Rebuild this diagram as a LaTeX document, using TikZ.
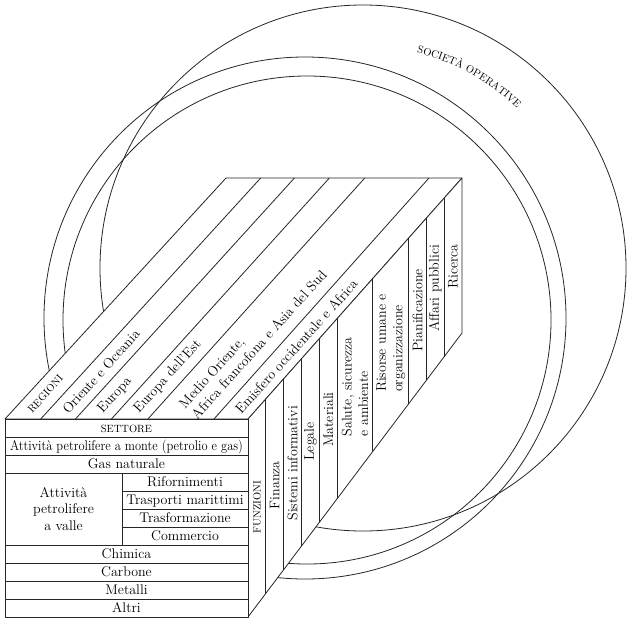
\documentclass[tikz,border=0pt]{standalone}
\usepackage{graphicx}
\usetikzlibrary{calc,decorations.text}
\newcommand{\grtcaps}{\fontsize{10.5}{12}\selectfont}

\begin{document}
\begin{tikzpicture}[
    x=1pt, y=-1pt,
    line join=round,
    nosep/.style={inner sep=0},
    edge/.style={draw=black!85, line width=0.8pt},
    face/.style={edge, fill=white},
    ring/.style={draw=black!85, line width=0.8pt},
    lbl/.style={nosep, font=\fontsize{14}{16.5}\selectfont},
    cell/.style={lbl, text height=12pt, text depth=2.5pt},
    reglabel/.style={lbl, anchor=west, rotate=48, align=left},
    funlabel/.style={lbl, rotate=90, align=left}]
\path[use as bounding box, fill=white] (0,0) rectangle (636,627);

\coordinate (ftl) at (5,419);
\coordinate (ftr) at (248,419);
\coordinate (fbl) at (5,617);
\coordinate (fbr) at (248,617);
\coordinate (btl) at (226,178);
\coordinate (btr) at (462,178);
\coordinate (bbr) at (462,333);
\coordinate (opA) at (363,268);
\coordinate (opB) at (305,318);
\coordinate (opC) at (307,320);

\draw[ring] (opA) circle[radius=263];
\draw[ring] (opB) circle[radius=261];
\draw[ring] (opC) circle[radius=244];
\path[decorate, decoration={text along path, text align=center, text={|\grtcaps|SOCIETÀ OPERATIVE}}]
    ($(opA)+(-77:222)$) arc[start angle=-77, end angle=-45, radius=222];

\path[face] (ftl) -- (btl) -- (btr) -- (ftr) -- cycle;
\path[face] (ftr) -- (btr) -- (bbr) -- (fbr) -- cycle;
\path[face] (ftl) rectangle (fbr);

\foreach \t in {0.147,0.29,0.438,0.588,0.86}
    \draw[edge] ($(ftl)!\t!(ftr)$) -- ($(btl)!\t!(btr)$);
\foreach \k in {1,2,3,4,5,7,9,10,11}
    \draw[edge] ($(ftr)!{\k/12}!(btr)$) -- ($(fbr)!{\k/12}!(bbr)$);
\foreach \k in {1,2,3,7,8,9,10}
    \draw[edge] ($(ftl)+(0,18*\k)$) -- ($(ftr)+(0,18*\k)$);
\foreach \k in {4,5,6}
    \draw[edge] ($(ftl)+(117,18*\k)$) -- ($(ftr)+(0,18*\k)$);
\draw[edge] ($(ftl)+(117,54)$) -- ($(ftl)+(117,126)$);

\foreach \k/\txt in {0/{\grtcaps SETTORE},
                     1/{\scalebox{0.89}[1]{Attività petrolifere a monte (petrolio e gas)}},
                     2/Gas naturale, 7/Chimica, 8/Carbone, 9/Metalli, 10/Altri}
    \node[cell] (set\k) at ($(ftl)!0.5!(ftr)+(0,18*\k+9)$) {\txt};
\foreach \k/\txt in {3/Rifornimenti, 4/Trasporti marittimi, 5/Trasformazione, 6/Commercio}
    \node[cell] (dwn\k) at ($(ftl)+(180,18*\k+9)$) {\txt};
\node[lbl, align=center] (dwn) at ($(ftl)+(58.5,90)$) {Attività\\petrolifere\\a valle};

\foreach \a/\b/\txt [count=\i] in {0/0.147/{\grtcaps REGIONI},
                                   0.147/0.29/Oriente e Oceania,
                                   0.29/0.438/Europa,
                                   0.438/0.588/Europa dell’Est,
                                   0.588/0.86/{Medio Oriente,\\Africa francofona e Asia del Sud},
                                   0.86/1/Emisfero occidentale e Africa}
{
    \pgfmathsetmacro\m{(\a+\b)/2}
    \coordinate (sf\i) at ($(ftl)!\m!(ftr)$);
    \coordinate (sb\i) at ($(btl)!\m!(btr)$);
    \node[reglabel] (reg\i) at ($(sf\i)!10pt!(sb\i)$) {\txt};
}

\foreach \a/\b/\txt [count=\i] in {0/1/{\grtcaps FUNZIONI},
                                   1/2/Finanza,
                                   2/3/Sistemi informativi,
                                   3/4/Legale,
                                   4/5/Materiali,
                                   5/7/{Salute, sicurezza\\e ambiente},
                                   7/9/{Risorse umane e\\organizzazione},
                                   9/10/Pianificazione,
                                   10/11/Affari pubblici,
                                   11/12/Ricerca}
{
    \pgfmathsetmacro\m{(\a+\b)/24}
    \coordinate (ct\i) at ($(ftr)!\m!(btr)$);
    \coordinate (cb\i) at ($(fbr)!\m!(bbr)$);
    \node[funlabel] (fun\i) at ($(ct\i)!0.5!(cb\i)$) {\txt};
}

\end{tikzpicture}
\end{document}
